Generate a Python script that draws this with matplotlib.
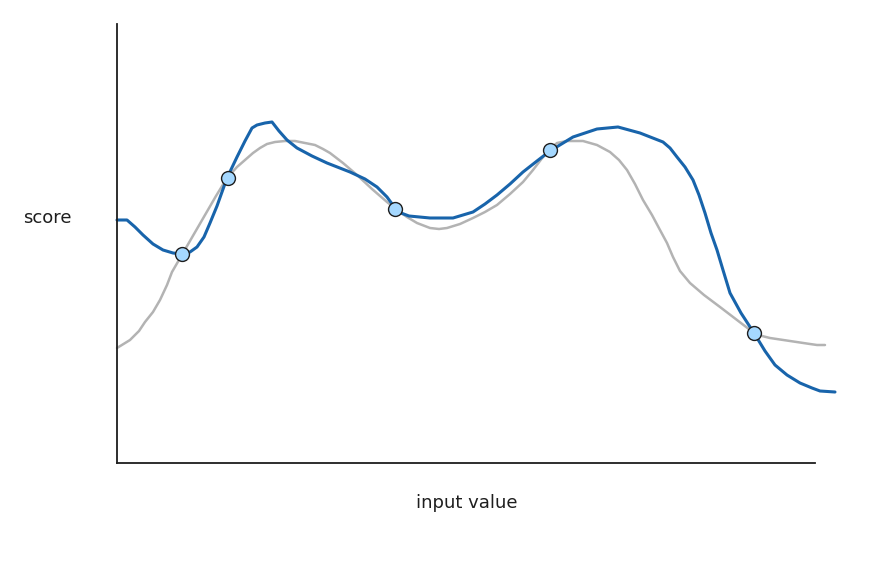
import matplotlib
matplotlib.use("Agg")
import matplotlib.pyplot as plt

# values (arbitrary units, origin at the axes corner)
blue_x = [0, 10, 18, 26, 36, 46, 56, 65, 73, 80, 87, 93, 100, 110, 120, 128,
          135, 140, 148, 155, 162, 170, 180, 195, 210, 233, 248, 260, 270, 278,
          284, 292, 313, 336, 356, 368, 380, 393, 406, 420, 433, 456, 480, 501,
          523, 546, 553, 560, 568, 576, 582, 588, 594, 600, 606, 613, 624, 637,
          648, 658, 670, 683, 695, 703, 718]
blue_y = [243, 243, 236, 228, 219, 213, 210, 209, 211, 216, 226, 240, 257, 285, 306, 322,
          335, 338, 340, 341, 332, 323, 315, 307, 300, 291, 284, 276, 266, 255,
          250, 247, 245, 245, 251, 259, 268, 279, 291, 302, 312, 326, 334, 336,
          330, 321, 315, 306, 296, 283, 268, 250, 230, 213, 193, 170, 150, 130,
          112, 98, 88, 80, 75, 72, 71]

gray_x = [0, 13, 22, 28, 36, 43, 50, 55, 66, 77, 88, 99, 110, 120, 128, 136,
          143, 150, 158, 168, 178, 188, 198, 206, 213, 226, 240, 255, 270, 280,
          290, 300, 313, 322, 330, 343, 356, 368, 380, 393, 406, 416, 426, 433,
          440, 450, 466, 480, 493, 502, 510, 518, 526, 535, 543, 550, 556, 563,
          573, 587, 603, 620, 637, 645, 653, 673, 693, 700, 708]
gray_y = [115, 123, 132, 141, 151, 163, 178, 191, 210, 229, 248, 267, 285, 296, 303, 310,
          315, 319, 321, 322, 322, 320, 318, 314, 310, 300, 288, 274, 261, 253,
          246, 240, 235, 234, 235, 239, 245, 251, 258, 269, 281, 293, 306, 314,
          320, 322, 322, 318, 311, 303, 293, 279, 263, 248, 233, 220, 206, 192,
          180, 168, 156, 143, 130, 127, 125, 122, 119, 118, 118]

pts_x = [65, 111, 278, 433, 637]
pts_y = [209, 285, 254, 313, 130]

fig = plt.figure(figsize=(8.95, 5.71), dpi=100)
ax = fig.add_axes([117 / 895, 108 / 571, 698 / 895, 439 / 571])

ax.plot(gray_x, gray_y, color="#b3b3b3", lw=1.8, solid_joinstyle="round",
        solid_capstyle="round", clip_on=False)
ax.plot(blue_x, blue_y, color="#1864ab", lw=2.2, solid_joinstyle="round",
        solid_capstyle="round", clip_on=False)
ax.scatter(pts_x, pts_y, s=100, facecolor="#a5d8ff", edgecolor="#1e1e1e",
           linewidths=1.0, zorder=5, clip_on=False)

ax.set_xlim(0, 698)
ax.set_ylim(0, 439)
ax.set_xticks([])
ax.set_yticks([])
for side in ["top", "right"]:
    ax.spines[side].set_visible(False)
for side in ["left", "bottom"]:
    ax.spines[side].set_color("#1e1e1e")
    ax.spines[side].set_linewidth(1.3)

fig.text(47 / 895, 1 - 218 / 571, "score", ha="center", va="center",
         fontsize=13, color="#1e1e1e")
fig.text(467 / 895, 1 - 503 / 571, "input value", ha="center", va="center",
         fontsize=13, color="#1e1e1e")

fig.savefig("out.png", dpi=100, facecolor="white")
